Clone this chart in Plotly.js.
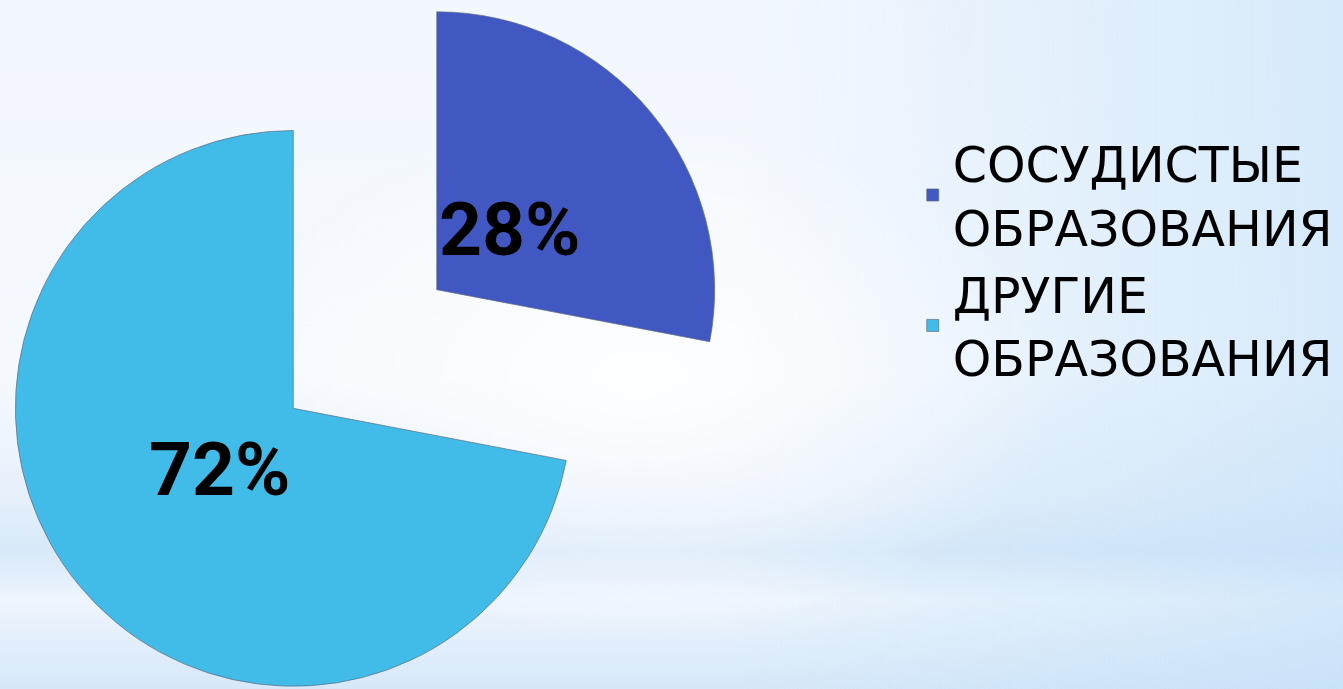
<!DOCTYPE html>
<html>
<head>
<meta charset="utf-8">
<script src="https://cdn.plot.ly/plotly-3.0.1.min.js"></script>
<style>
  html, body { margin: 0; padding: 0; width: 1343px; height: 689px; overflow: hidden; }
  body {
    background:
      radial-gradient(ellipse 420px 260px at 640px 380px, rgba(255,255,255,0.85), rgba(255,255,255,0) 100%),
      linear-gradient(to right, rgba(255,255,255,0) 55%, rgba(190,222,248,0.55) 100%),
      linear-gradient(to bottom, #F3F8FE 0%, #F5F9FE 55%, #E6F0FB 72%, #D8E9F9 80%, #EEF5FD 87%, #D6E8F9 100%);
  }
  #chart { position: absolute; left: -10px; top: -31px; }
</style>
</head>
<body>
<div id="chart"></div>
<script>
  // Data
  var categories = ['СОСУДИСТЫЕ ОБРАЗОВАНИЯ', 'ДРУГИЕ ОБРАЗОВАНИЯ'];
  var values = [28, 72];
  var sliceColors = ['#4158C3', '#41BBE7'];

  var legendLabels = categories.map(function (c) { return c.replace(' ', '<br>'); });

  // Geometry (style)
  var W = 1353, H = 760;
  var pullFrac = 0.335;
  var domX = [4 / W, 746 / W], domY = [0, 1];
  var labelRadius = 0.34; // label distance from slice vertex, as fraction of radius

  var trace = {
    type: 'pie',
    labels: legendLabels,
    values: values,
    sort: false,
    direction: 'clockwise',
    rotation: 0,
    pull: values.map(function () { return pullFrac; }),
    domain: { x: domX, y: domY },
    marker: { colors: sliceColors, line: { color: 'rgba(95,110,130,0.7)', width: 1 } },
    textinfo: 'none',
    hoverinfo: 'none'
  };

  // Percent labels placed along each slice's bisector (derived from the data + pie geometry)
  var total = values.reduce(function (a, b) { return a + b; }, 0);
  var cx = W * (domX[0] + domX[1]) / 2;
  var cy = H * (1 - (domY[0] + domY[1]) / 2);
  var r = Math.min(W * (domX[1] - domX[0]), H * (domY[1] - domY[0])) / 2 / (1 + pullFrac);
  var cum = 0;
  var annotations = values.map(function (v) {
    var mid = (cum + v / 2) / total * 2 * Math.PI;
    cum += v;
    var d = (pullFrac + labelRadius) * r;
    var px = cx + d * Math.sin(mid);
    var py = cy - d * Math.cos(mid);
    return {
      xref: 'paper', yref: 'paper',
      x: px / W, y: 1 - py / H,
      xanchor: 'center', yanchor: 'middle',
      text: Math.round(v / total * 100) + '%',
      showarrow: false,
      font: { family: 'Roboto', size: 75, color: '#000000', weight: 'bold' }
    };
  });

  var layout = {
    width: W,
    height: H,
    margin: { l: 0, r: 0, t: 0, b: 0, pad: 0 },
    paper_bgcolor: 'rgba(0,0,0,0)',
    plot_bgcolor: 'rgba(0,0,0,0)',
    showlegend: true,
    legend: {
      x: 0.682, xanchor: 'left',
      y: 0.795, yanchor: 'top',
      font: { family: 'DejaVu Sans', size: 49, color: '#000000' },
      bgcolor: 'rgba(0,0,0,0)',
      traceorder: 'normal'
    },
    annotations: annotations,
    hovermode: false
  };

  Plotly.newPlot('chart', [trace], layout, { staticPlot: true, displayModeBar: false });
</script>
</body>
</html>
